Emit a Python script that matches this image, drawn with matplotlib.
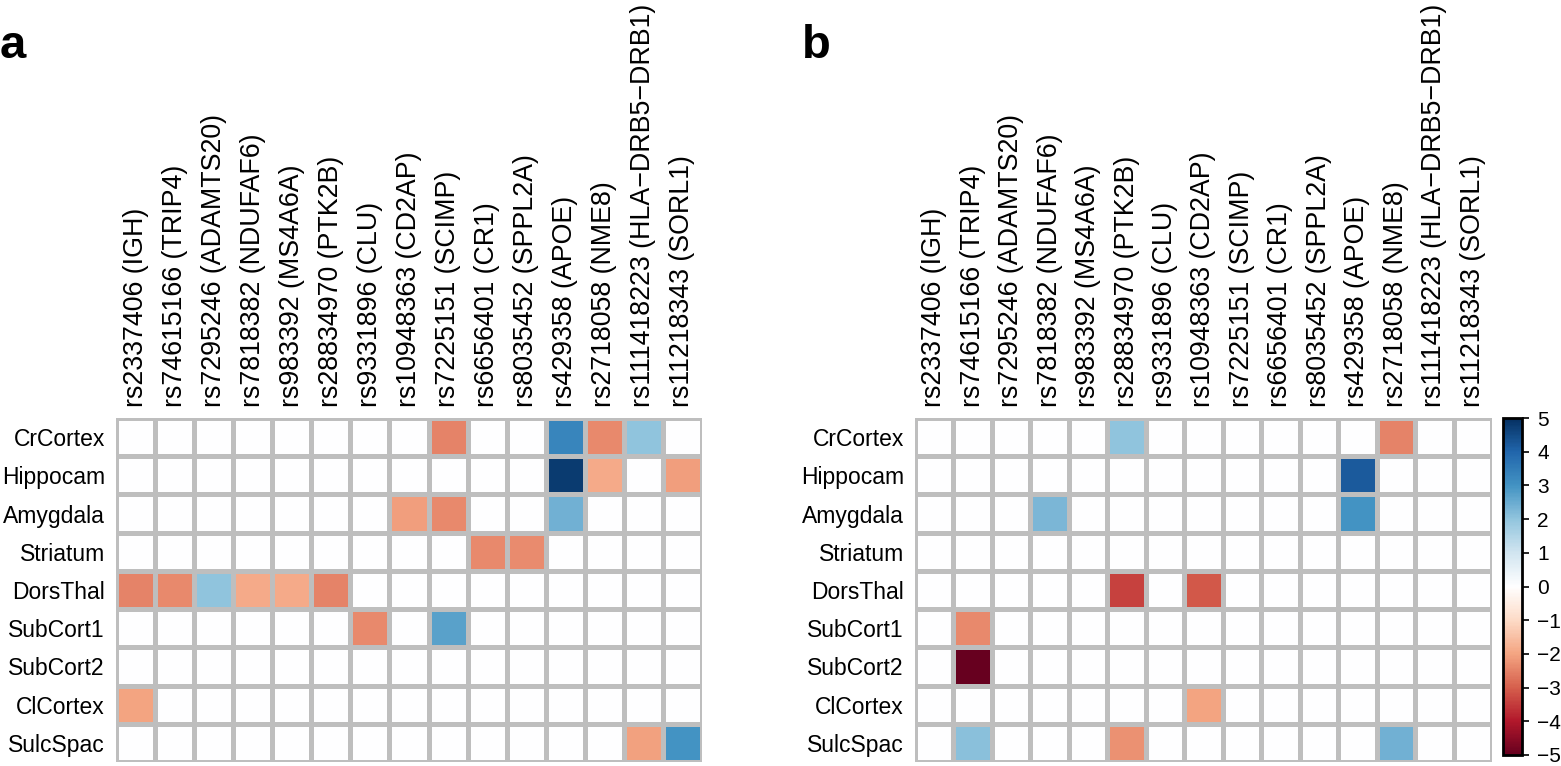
import numpy as np
import matplotlib
matplotlib.use("Agg")
import matplotlib.pyplot as plt
from matplotlib.colors import LinearSegmentedColormap, Normalize

plt.rcParams['font.family'] = ['Liberation Sans', 'DejaVu Sans']

regions = ["CrCortex", "Hippocam", "Amygdala", "Striatum", "DorsThal",
           "SubCort1", "SubCort2", "ClCortex", "SulcSpac"]
snps = ["rs2337406 (IGH)", "rs74615166 (TRIP4)", "rs7295246 (ADAMTS20)",
        "rs7818382 (NDUFAF6)", "rs983392 (MS4A6A)", "rs28834970 (PTK2B)",
        "rs9331896 (CLU)", "rs10948363 (CD2AP)", "rs7225151 (SCIMP)",
        "rs6656401 (CR1)", "rs8035452 (SPPL2A)", "rs429358 (APOE)",
        "rs2718058 (NME8)", "rs111418223 (HLA\u2212DRB5\u2212DRB1)",
        "rs11218343 (SORL1)"]

# z-scores, rows = regions, columns = SNPs
vals_a = [
    [0, 0, 0, 0, 0, 0, 0, 0, -2.5, 0, 0, 3.3, -2.4, 2.0, 0],
    [0, 0, 0, 0, 0, 0, 0, 0, 0, 0, 0, 4.8, -1.9, 0, -2.1],
    [0, 0, 0, 0, 0, 0, 0, -2.1, -2.4, 0, 0, 2.4, 0, 0, 0],
    [0, 0, 0, 0, 0, 0, 0, 0, 0, -2.4, -2.35, 0, 0, 0, 0],
    [-2.5, -2.4, 2.0, -1.9, -1.9, -2.5, 0, 0, 0, 0, 0, 0, 0, 0, 0],
    [0, 0, 0, 0, 0, 0, -2.4, 0, 2.7, 0, 0, 0, 0, 0, 0],
    [0, 0, 0, 0, 0, 0, 0, 0, 0, 0, 0, 0, 0, 0, 0],
    [-2.0, 0, 0, 0, 0, 0, 0, 0, 0, 0, 0, 0, 0, 0, 0],
    [0, 0, 0, 0, 0, 0, 0, 0, 0, 0, 0, 0, 0, -2.05, 3.0],
]
vals_b = [
    [0, 0, 0, 0, 0, 2.0, 0, 0, 0, 0, 0, 0, -2.5, 0, 0],
    [0, 0, 0, 0, 0, 0, 0, 0, 0, 0, 0, 4.2, 0, 0, 0],
    [0, 0, 0, 2.3, 0, 0, 0, 0, 0, 0, 0, 3.0, 0, 0, 0],
    [0, 0, 0, 0, 0, 0, 0, 0, 0, 0, 0, 0, 0, 0, 0],
    [0, 0, 0, 0, 0, -3.4, 0, -3.1, 0, 0, 0, 0, 0, 0, 0],
    [0, -2.4, 0, 0, 0, 0, 0, 0, 0, 0, 0, 0, 0, 0, 0],
    [0, -5.0, 0, 0, 0, 0, 0, 0, 0, 0, 0, 0, 0, 0, 0],
    [0, 0, 0, 0, 0, 0, 0, -2.0, 0, 0, 0, 0, 0, 0, 0],
    [0, 2.1, 0, 0, 0, -2.3, 0, 0, 0, 0, 0, 0, 2.4, 0, 0],
]

rdbu = ["#67001f", "#b2182b", "#d6604d", "#f4a582", "#fddbc7", "#ffffff",
        "#d1e5f0", "#92c5de", "#4393c3", "#2166ac", "#053061"]
cmap = LinearSegmentedColormap.from_list("rdbu_w", rdbu)
norm = Normalize(-5, 5)

W, H = 1561, 766
fig = plt.figure(figsize=(W / 100, H / 100), dpi=100)


def panel(left, right, data, letter, letter_x):
    ax = fig.add_axes([left / W, 4 / H, (right - left) / W, 344 / H])
    z = np.array(data)
    ax.pcolormesh(np.arange(16), np.arange(10), z, cmap=cmap, norm=norm,
                  edgecolors="#bebebe", linewidth=2.2)
    ax.set_xlim(0, 15)
    ax.set_ylim(9, 0)
    ax.set_xticks(np.arange(15) + 0.5)
    ax.set_xticklabels(snps, rotation=90, fontsize=19.3)
    ax.xaxis.tick_top()
    ax.set_yticks(np.arange(9) + 0.5)
    ax.set_yticklabels(regions, fontsize=16.5)
    ax.tick_params(length=0, pad=8)
    for s in ax.spines.values():
        s.set_visible(False)
    fig.text(letter_x / W, 1 - 46 / H, letter, fontsize=34, fontweight="bold",
             va="center", ha="left")
    return ax


panel(116, 702, vals_a, "a", 0)
panel(915, 1492, vals_b, "b", 802)

cax = fig.add_axes([1503 / W, 11 / H, 19 / W, 337 / H])
sm = plt.cm.ScalarMappable(norm=norm, cmap=cmap)
cb = fig.colorbar(sm, cax=cax, ticks=range(-5, 6))
cb.outline.set_linewidth(2)
cb.ax.tick_params(labelsize=15, length=5, width=1.2, pad=6)

fig.savefig("out.png", dpi=100)
